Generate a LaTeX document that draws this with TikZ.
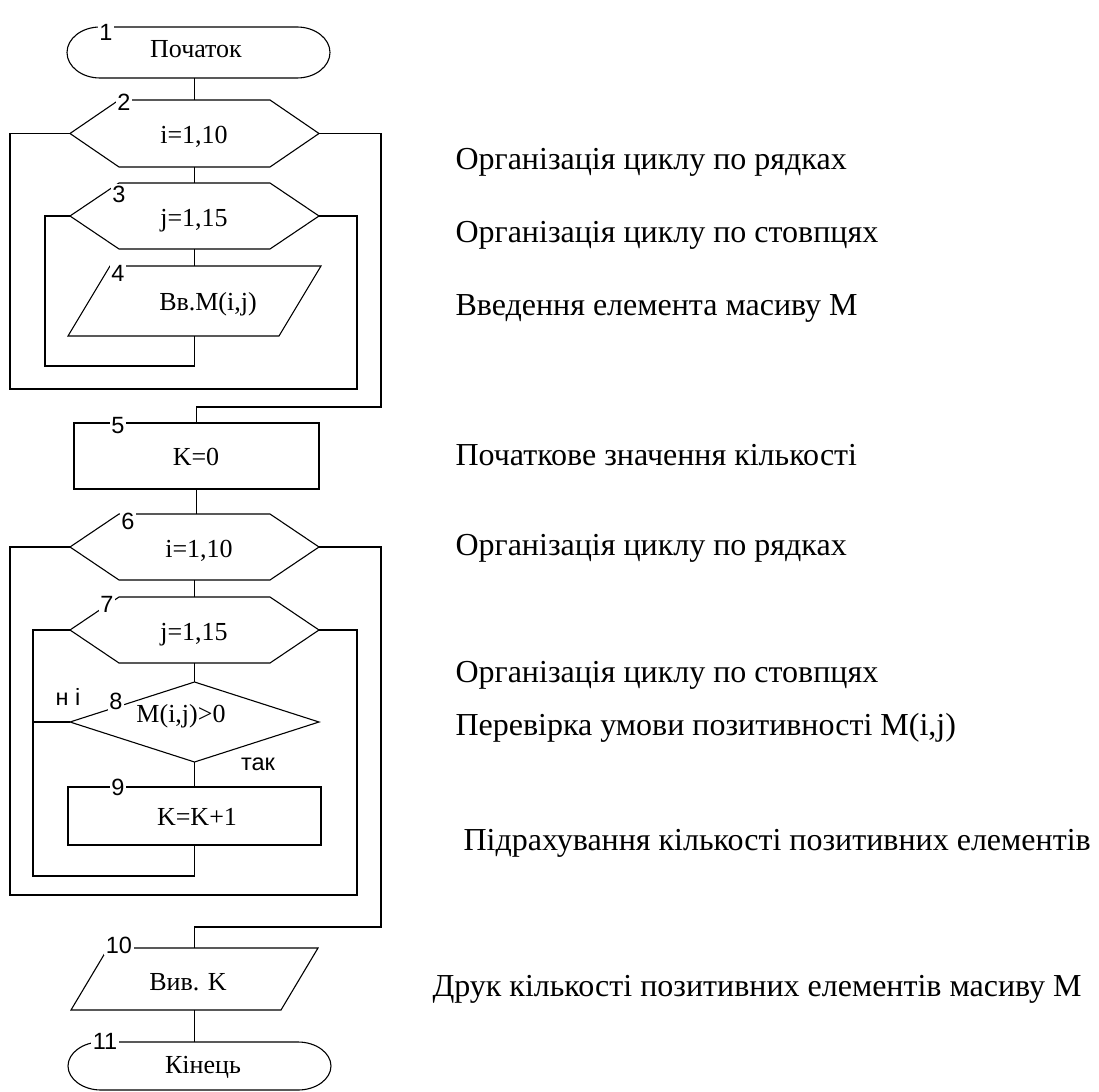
\documentclass[tikz,border=0pt]{standalone}
\usepackage{fontspec}
\setmainfont{Liberation Serif}
\newfontfamily\numfont{Liberation Sans}

% outline of a loop hexagon drawn on an empty frame node
\newcommand\hexoutline[2]{%
  \draw ([xshift=#2]#1.north west) -- ([xshift=-#2]#1.north east) -- (#1.east)
    -- ([xshift=-#2]#1.south east) -- ([xshift=#2]#1.south west) -- (#1.west) -- cycle;}
% outline of an input/output parallelogram
\newcommand\paraoutline[2]{%
  \draw ([xshift=#2]#1.north west) -- (#1.north east)
    -- ([xshift=-#2]#1.south east) -- (#1.south west) -- cycle;}
% outline of a start/stop terminator with elliptic ends (rx = 33pt)
\newcommand\termoutline[2]{%
  \draw ([xshift=33pt]#1.north west) -- ([xshift=-33pt]#1.north east)
    .. controls ([xshift=-14.8pt]#1.north east) and ([yshift=#2]#1.east) .. (#1.east)
    .. controls ([yshift=-#2]#1.east) and ([xshift=-14.8pt]#1.south east) .. ([xshift=-33pt]#1.south east)
    -- ([xshift=33pt]#1.south west)
    .. controls ([xshift=14.8pt]#1.south west) and ([yshift=-#2]#1.west) .. (#1.west)
    .. controls ([yshift=#2]#1.west) and ([xshift=14.8pt]#1.north west) .. ([xshift=33pt]#1.north west) -- cycle;}

\begin{document}
\begin{tikzpicture}[x=1pt, y=-1pt, line width=1.1pt,
  frame/.style={inner sep=0pt, outer sep=0pt},
  txt/.style={inner sep=0pt, anchor=base, font=\fontsize{26}{30}\selectfont},
  note/.style={inner sep=0pt, anchor=base west, font=\fontsize{32}{36}\selectfont},
  num/.style={fill=white, inner sep=1.5pt, font=\numfont\fontsize{23.5}{26}\selectfont},
  branch/.style={inner sep=0pt, font=\numfont\fontsize{23.5}{26}\selectfont}]

\useasboundingbox (0,0) rectangle (1099,1091);

% ---------- block frames ----------
\node[frame, minimum width=263pt, minimum height=51pt] (n1) at (198.5,52.5) {};
\node[frame, minimum width=249pt, minimum height=67pt] (n2) at (194.5,133.5) {};
\node[frame, minimum width=249pt, minimum height=66pt] (n3) at (194.5,216) {};
\node[frame, minimum width=253pt, minimum height=70pt] (n4) at (194.5,301) {};
\node[frame, draw, minimum width=245pt, minimum height=66pt] (n5) at (196.5,456) {};
\node[frame, minimum width=249pt, minimum height=66pt] (n6) at (194.5,547) {};
\node[frame, minimum width=249pt, minimum height=66pt] (n7) at (194.5,630) {};
\node[frame, minimum width=249pt, minimum height=80pt] (n8) at (194.5,722) {};
\node[frame, draw, minimum width=253pt, minimum height=58pt] (n9) at (194.5,816) {};
\node[frame, minimum width=247pt, minimum height=62pt] (n10) at (194.5,979) {};
\node[frame, minimum width=263pt, minimum height=48pt] (n11) at (199.5,1066) {};

\termoutline{n1}{14pt}
\hexoutline{n2}{49pt}
\hexoutline{n3}{49pt}
\paraoutline{n4}{42pt}
\hexoutline{n6}{49pt}
\hexoutline{n7}{49pt}
\draw (n8.north) -- (n8.east) -- (n8.south) -- (n8.west) -- cycle;
\paraoutline{n10}{37pt}
\termoutline{n11}{13pt}

% ---------- loop return points ----------
\coordinate (l3) at (45,366);
\coordinate (r3) at (357,389);
\coordinate (l2) at (10,389);
\coordinate (r2) at (381,407);
\coordinate (l7) at (33,876);
\coordinate (r7) at (357,895);
\coordinate (l6) at (10,895);
\coordinate (r6) at (381,927);

% ---------- connectors ----------
\draw (n2.north |- n1.south) -- (n2.north);
\draw (n2.south) -- (n3.north);
\draw (n3.south) -- (n4.north);
\draw (n4.south) |- (l3) |- (n3.west);
\draw (n3.east) -| (r3) -- (l2) |- (n2.west);
\draw (n2.east) -| (r2) -| (n5.north);
\draw (n5.south) -- (n5.south |- n6.north);
\draw (n6.south) -- (n7.north);
\draw (n7.south) -- (n8.north);
\draw (n8.south) -- (n9.north);
\draw (n9.south) |- (l7) |- (n7.west);
\draw (n8.west) -- (n8.west -| l7);
\draw (n7.east) -| (r7) -- (l6) |- (n6.west);
\draw (n6.east) -| (r6) -| (n10.north);
\draw (n10.south) -- (n10.south |- n11.north);

% ---------- block texts ----------
\node[txt] (t1) at (196,58) {Початок};
\node[txt] (t2) at (194,144) {i=1,10};
\node[txt] (t3) at (194,226) {j=1,15};
\node[txt] (t4) at (208,310) {Вв.М(i,j)};
\node[txt] (t5) at (196,465) {K=0};
\node[txt] (t6) at (199,557) {i=1,10};
\node[txt] (t7) at (194,640) {j=1,15};
\node[txt] (t8) at (181,722) {M(i,j)>0};
\node[txt] (t9) at (197,825) {K=K+1};
\node[txt] (t10) at (188,990) {Вив. K};
\node[txt] (t11) at (203,1073) {Кінець};

% ---------- block numbers ----------
\node[num] (k1) at (106,32) {1};
\node[num] (k2) at (124,102) {2};
\node[num] (k3) at (119,194) {3};
\node[num] (k4) at (118,273) {4};
\node[num] (k5) at (118,426) {5};
\node[num] (k6) at (128,521) {6};
\node[num] (k7) at (107,604) {7};
\node[num] (k8) at (116,701) {8};
\node[num] (k9) at (118,787) {9};
\node[num] (k10) at (119,945) {10};
\node[num] (k11) at (105,1041) {11};

% ---------- branch labels ----------
\node[branch] (no) at (68,697) {н і};
\node[branch] (yes) at (258,764) {так};

% ---------- comments ----------
\node[note] (c1) at (455,170) {Організація циклу по рядках};
\node[note] (c2) at (455,243) {Організація циклу по стовпцях};
\node[note] (c3) at (455,315) {Введення елемента масиву М};
\node[note] (c4) at (455,465) {Початкове значення кількості};
\node[note] (c5) at (455,555) {Організація циклу по рядках};
\node[note] (c6) at (455,682) {Організація циклу по стовпцях};
\node[note] (c7) at (455,735) {Перевірка умови позитивності М(i,j)};
\node[note] (c8) at (463,850) {Підрахування кількості позитивних елементів};
\node[note] (c9) at (432,996) {Друк кількості позитивних елементів масиву М};
\end{tikzpicture}
\end{document}
